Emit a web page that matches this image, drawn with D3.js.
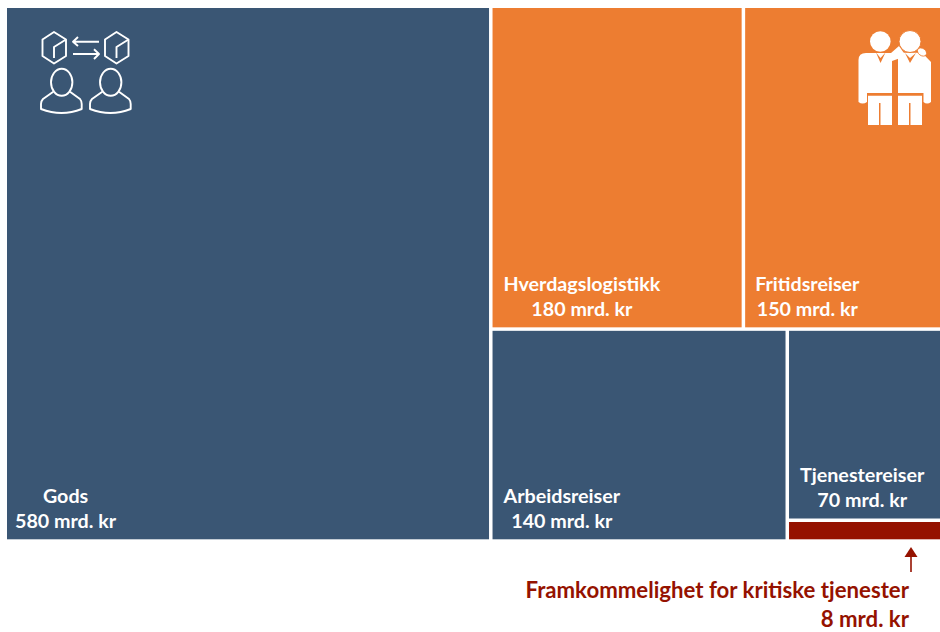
<!DOCTYPE html>
<html>
<head>
<meta charset="utf-8">
<script src="https://cdn.jsdelivr.net/npm/d3@7"></script>
<style>
    html, body { margin: 0; padding: 0; background: #fff; }
    svg { display: block; }
    text { font-family: Lato, "Open Sans", sans-serif; font-weight: 700; }
</style>
</head>
<body>
<div id="chart"></div>
<script>
// Values in mrd. kr, as written on the boxes
var categories = ["Gods", "Hverdagslogistikk", "Fritidsreiser", "Arbeidsreiser", "Tjenestereiser", "Framkommelighet for kritiske tjenester"];
var values = [580, 180, 150, 140, 70, 8];
// The boxes in the picture are not quite to scale, these are the sizes as drawn
var drawnSizes = [590, 185.3, 145.5, 142.8, 67.1, 7.3];
var groups = ["blue", "orange", "orange", "blue", "blue", "red"];
var unit = "mrd. kr";

var width = 940, height = 632;
var colours = {blue: "#3a5674", orange: "#ed7d31", red: "#951200"};
var insets = [8, 11, 10, 11, 11];   // text inset from the left of each box

function leaf(i) {
    return {name: categories[i], label: values[i], value: drawnSizes[i], group: groups[i], index: i};
}

// Same nesting as the picture, slice and dice takes care of the direction
var tree = {children: [
    leaf(0),
    {children: [
        {children: [leaf(1), leaf(2)]},
        {children: [leaf(3), {children: [leaf(4), leaf(5)]}]}
    ]}
]};

var root = d3.hierarchy(tree).sum(function (d) { return d.value || 0; });
d3.treemap()
    .tile(d3.treemapSliceDice)
    .size([933, 531.3])
    .paddingInner(3.5)(root);

var svg = d3.select("#chart").append("svg")
    .attr("width", width)
    .attr("height", height);

var plot = svg.append("g").attr("transform", "translate(7,8)");

var cells = plot.selectAll("g.cell")
    .data(root.leaves())
    .enter().append("g")
    .attr("class", "cell")
    .attr("transform", function (d) { return "translate(" + d.x0 + "," + d.y0 + ")"; });

cells.append("rect")
    .attr("width", function (d) { return d.x1 - d.x0; })
    .attr("height", function (d) { return d.y1 - d.y0; })
    .style("fill", function (d) { return colours[d.data.group]; });

// Box labels, two centred lines
cells.filter(function (d) { return d.data.group !== "red"; }).each(function (d) {
    var g = d3.select(this);
    var h = d.y1 - d.y0;
    var lines = [d.data.name, d.data.label + " " + unit];
    var label = g.append("g").style("fill", "#fff").style("font-size", "19.7px");
    var nodes = lines.map(function (t, i) {
        return label.append("text")
            .attr("y", h - 11 - (1 - i) * 25)
            .attr("text-anchor", "middle")
            .text(t);
    });
    var widest = d3.max(nodes, function (n) { return n.node().getComputedTextLength(); });
    nodes.forEach(function (n) { n.attr("x", insets[d.data.index] + widest / 2); });
});

// Annotation for the small red box
var red = root.leaves()[5];
var arrowX = 911;
var note = svg.append("g").style("fill", colours.red);
note.append("line")
    .attr("x1", arrowX).attr("x2", arrowX)
    .attr("y1", 572).attr("y2", 553)
    .style("stroke", colours.red)
    .style("stroke-width", 1.6);
note.append("path")
    .attr("d", "M" + arrowX + ",547 l-6.5,10 h13 z");
note.append("text")
    .attr("x", 909).attr("y", 598.3)
    .attr("text-anchor", "end")
    .style("font-size", "22.2px")
    .text(red.data.name);
note.append("text")
    .attr("x", 909).attr("y", 627.3)
    .attr("text-anchor", "end")
    .style("font-size", "22.2px")
    .text(red.data.label + " " + unit);

// Outline icon top left
var outline = svg.append("g")
    .style("fill", "none")
    .style("stroke", "#fff")
    .style("stroke-width", 1.9)
    .style("stroke-linejoin", "round");
[0, 62.5].forEach(function (dx) {
    var g = outline.append("g").attr("transform", "translate(" + dx + ",0)");
    g.append("path").attr("d", "M54,32 L66,39.5 V56 L54,63.5 L42.5,56 V39.5 Z");
    g.append("path").attr("d", "M54,58 V47 L66,39.5");
});
outline.append("path").attr("d", "M99,41.7 H73 M78,37 L73,41.7 L78,46");
outline.append("path").attr("d", "M73,54 H99 M94,49.3 L99,54 L94,59");
[0, 49].forEach(function (dx) {
    var g = outline.append("g").attr("transform", "translate(" + dx + ",0)");
    g.append("ellipse").attr("cx", 61.7).attr("cy", 82.3).attr("rx", 10.7).attr("ry", 13.5);
    g.append("path").attr("d", "M53.3,91.7 L43,99 Q41,101 41,104 V109 Q61.7,117 81.7,109 V104 Q81.7,101 80,99 L70,91.7");
});

// Solid icon top right
var orange = colours.orange;
var people = svg.append("g").style("fill", "#fff");
// left person, the shoulder runs on into the arm behind the other head
people.append("path").attr("d", "M866,53 H891 L899,46 L906,56 L892,61 V93 H867 V102 Q862.5,105 858.5,102 V60 Q858.5,53 866,53 Z");
people.append("path").attr("d", "M868,95.7 H892 V125 H880.5 V103 H879 V125 H868 Z");
people.append("circle").attr("cx", 880.3).attr("cy", 41.5).attr("r", 10.3);
// right person
people.append("path").attr("d", "M898,58 L903,52.7 H922 L931,62 V102 Q927,105 923.5,102 V93 H898 Z");
people.append("path").attr("d", "M898,95.7 H922 V125 H910.5 V103 H909 V125 H898 Z");
people.append("circle").attr("cx", 910).attr("cy", 41.5).attr("r", 11)
    .style("stroke", orange).style("stroke-width", 1);
people.append("ellipse").attr("cx", 922).attr("cy", 52).attr("rx", 5).attr("ry", 3.6)
    .attr("transform", "rotate(35 922 52)")
    .style("stroke", orange).style("stroke-width", 0.8);
// necklines
var necks = svg.append("g").style("fill", orange);
necks.append("path").attr("d", "M876,52.5 L880.5,63 L885.5,52.5 L880.5,58 Z");
necks.append("path").attr("d", "M905,53 L910,63 L916,53 L910,58 Z");
</script>
</body>
</html>
